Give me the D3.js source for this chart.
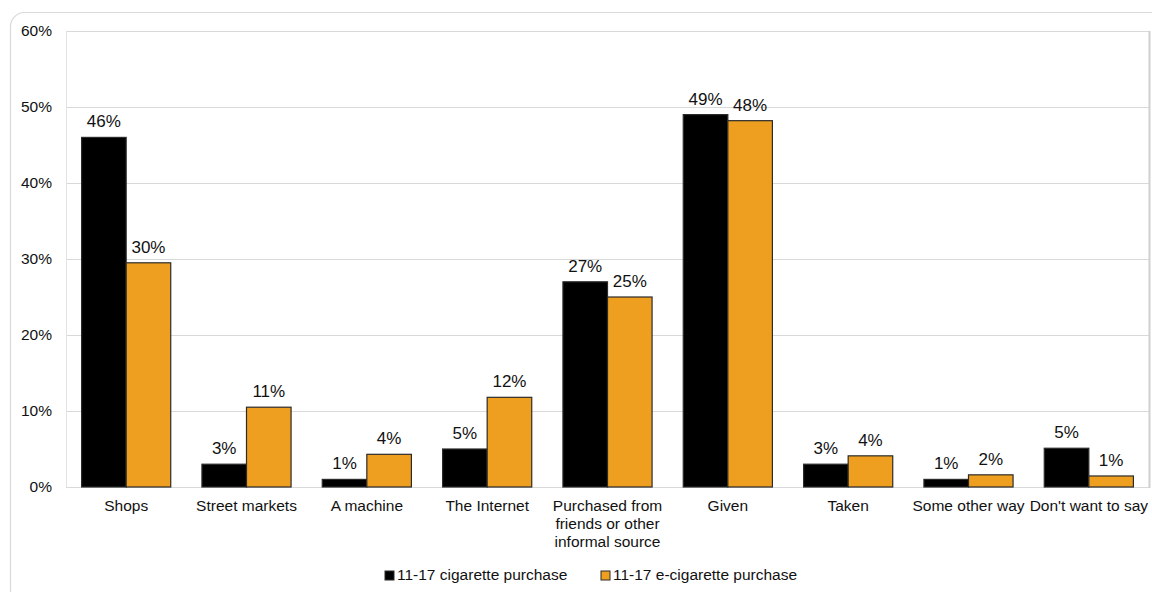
<!DOCTYPE html>
<html>
<head>
<meta charset="utf-8">
<script src="https://cdn.jsdelivr.net/npm/d3@7/dist/d3.min.js"></script>
<style>
  html, body { margin: 0; padding: 0; background: #fff; overflow: hidden; }
  svg { display: block; font-family: "Liberation Sans", Arial, sans-serif; }
</style>
</head>
<body>
<svg id="chart" width="1152" height="592"></svg>
<script>
// Where 11-17 year olds got their cigarettes / e-cigarettes (share of buyers)
const categories = [
  "Shops", "Street markets", "A machine", "The Internet",
  "Purchased from friends or other informal source",
  "Given", "Taken", "Some other way", "Don't want to say"
];
const seriesNames = ["11-17 cigarette purchase", "11-17 e-cigarette purchase"];
const cigarettePct  = [46, 3, 1, 5, 27, 49, 3, 1, 5.1];
const eCigarettePct = [29.5, 10.5, 4.3, 11.8, 25, 48.2, 4.1, 1.6, 1.45];
const yTicks = [0, 10, 20, 30, 40, 50, 60];
const seriesColors = ["#000000", "#EF9F1F"];

const svg = d3.select("#chart");
const W = 1152, H = 592;
const plot = { left: 66, right: 1149, top: 31, bottom: 487 };

// card outline
svg.append("rect")
  .attr("x", 10.5).attr("y", 12.5)
  .attr("width", W + 20).attr("height", H)
  .attr("rx", 14).attr("ry", 14)
  .attr("fill", "#fff").attr("stroke", "#d9d9d9").attr("stroke-width", 1.2);

const x0 = d3.scaleBand().domain(categories).range([plot.left, plot.right]).paddingInner(0).paddingOuter(0);
const x1 = d3.scaleBand().domain(seriesNames).range([0, x0.bandwidth()]).paddingInner(0).paddingOuter(0.35);
const y = d3.scaleLinear().domain([0, 60]).range([plot.bottom, plot.top]);

// gridlines
svg.append("g").selectAll("line").data(yTicks).join("line")
  .attr("x1", plot.left).attr("x2", plot.right)
  .attr("y1", d => y(d) + 0.5).attr("y2", d => y(d) + 0.5)
  .attr("stroke", "#d9d9d9").attr("stroke-width", 1);

// plot area frame (sides)
svg.append("line").attr("x1", plot.left + 0.5).attr("x2", plot.left + 0.5)
  .attr("y1", plot.top).attr("y2", plot.bottom).attr("stroke", "#e3e3e3");
svg.append("line").attr("x1", plot.right + 0.5).attr("x2", plot.right + 0.5)
  .attr("y1", plot.top).attr("y2", plot.bottom + 1).attr("stroke", "#d0d0d0").attr("stroke-width", 2);

// y axis labels
const yAxis = d3.axisLeft(y).tickValues(yTicks).tickFormat(d => d + "%").tickSize(0).tickPadding(14);
const gy = svg.append("g").attr("transform", `translate(${plot.left},0)`).call(yAxis);
gy.select(".domain").remove();
gy.selectAll("text").attr("font-size", 15.5).attr("fill", "#111")
  .attr("font-family", "Liberation Sans, Arial, sans-serif");

// bars
const rows = categories.map((c, i) => ({ cat: c, vals: [cigarettePct[i], eCigarettePct[i]] }));
const groups = svg.append("g").selectAll("g").data(rows).join("g")
  .attr("transform", d => `translate(${x0(d.cat)},0)`);

groups.selectAll("rect").data(d => d.vals.map((v, j) => ({ s: seriesNames[j], v, j }))).join("rect")
  .attr("x", d => x1(d.s))
  .attr("y", d => y(d.v))
  .attr("width", x1.bandwidth())
  .attr("height", d => y(0) - y(d.v))
  .attr("fill", d => seriesColors[d.j])
  .attr("stroke", "#2b2b2b").attr("stroke-width", 1.2);

groups.selectAll("text").data(d => d.vals.map((v, j) => ({ s: seriesNames[j], v, j }))).join("text")
  .attr("x", d => x1(d.s) + x1.bandwidth() / 2)
  .attr("y", d => y(d.v) - 10)
  .attr("text-anchor", "middle")
  .attr("font-size", 17).attr("fill", "#111")
  .text(d => Math.round(d.v) + "%");

// category labels, wrapped to the band width
const xAxis = d3.axisBottom(x0).tickSize(0).tickPadding(0);
const gx = svg.append("g").attr("transform", `translate(0,${plot.bottom})`).call(xAxis);
gx.select(".domain").remove();
gx.selectAll("text").each(function (d) {
  const t = d3.select(this);
  t.text(null).attr("font-size", 15.5).attr("fill", "#111").attr("y", 0).attr("dy", null)
    .attr("font-family", "Liberation Sans, Arial, sans-serif");
  const words = d.split(" ");
  let line = [];
  let lineNo = 0;
  let tspan = t.append("tspan").attr("x", 0).attr("y", 24);
  words.forEach(w => {
    line.push(w);
    tspan.text(line.join(" "));
    if (tspan.node().getComputedTextLength() > 130 && line.length > 1) {
      line.pop();
      tspan.text(line.join(" "));
      line = [w];
      lineNo++;
      tspan = t.append("tspan").attr("x", 0).attr("y", 24 + lineNo * 18).text(w);
    }
  });
});

// legend
const legend = svg.append("g").attr("transform", "translate(0,580)");
const legendX = [385, 601];
seriesNames.forEach((name, j) => {
  legend.append("rect").attr("x", legendX[j]).attr("y", -9).attr("width", 9).attr("height", 9)
    .attr("fill", seriesColors[j]).attr("stroke", "#2b2b2b").attr("stroke-width", 1);
  legend.append("text").attr("x", legendX[j] + 12).attr("y", 0)
    .attr("font-size", 15.5).attr("fill", "#111").text(name);
});
</script>
</body>
</html>
